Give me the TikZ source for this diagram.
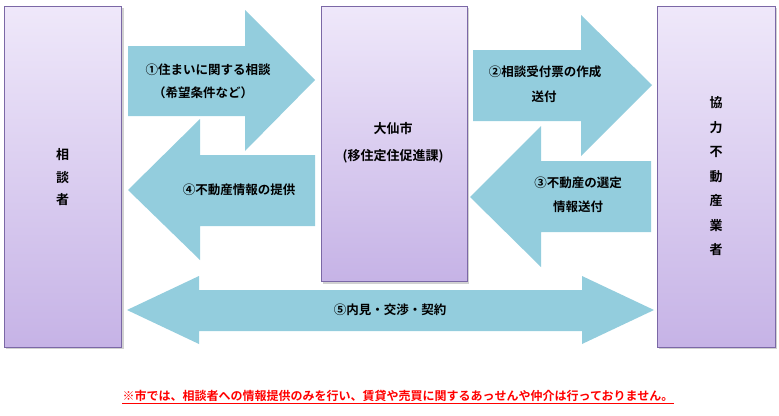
\documentclass[tikz,border=0pt]{standalone}
\usepackage{fontspec}
\setmainfont{Noto Sans CJK JP}[BoldFont={Noto Sans CJK JP Bold}]
\usetikzlibrary{calc}
\definecolor{boxtop}{HTML}{EFE8FA}
\definecolor{boxbot}{HTML}{C6B3E6}
\definecolor{boxline}{HTML}{7B68A6}
\definecolor{arrowc}{HTML}{93CDDD}
\tikzset{
  party/.style={draw=boxline, line width=0.9pt, top color=boxtop, bottom color=boxbot},
  pshadow/.style={fill=black!18},
  blockarrow/.style={fill=arrowc, draw=none},
  lbl/.style={font=\fontsize{12.5}{14}\selectfont\bfseries, text=black, inner sep=0pt},
  vlbl/.style={font=\fontsize{13}{14}\selectfont\bfseries, text=black, inner sep=0pt},
}
\begin{document}
\begin{tikzpicture}[x=1pt,y=-1pt]
\useasboundingbox (0,0) rectangle (779,415);
% shadows
\fill[pshadow] (5.5,8) rectangle (123.5,349);
\fill[pshadow] (322.5,8) rectangle (469,283.5);
\fill[pshadow] (658.5,8) rectangle (777,349);
% boxes
\path[party] (4,6) rectangle (121,347);
\path[party] (321,6) rectangle (467,281);
\path[party] (657,6) rectangle (775,347);
\coordinate (L) at (62.5,176);
\coordinate (M) at (394,143);
\coordinate (R) at (716,176);
% arrow 1 (right)
\fill[blockarrow] (128,46) -- (245,46) -- (245,10) -- (315,80) -- (245,151) -- (245,116) -- (128,116) -- cycle;
% arrow 4 (left)
\fill[blockarrow] (315,155) -- (200,155) -- (200,119) -- (128,190) -- (200,260) -- (200,226) -- (315,226) -- cycle;
% arrow 2 (right)
\fill[blockarrow] (473,50) -- (581,50) -- (581,15) -- (652,85) -- (581,156) -- (581,121) -- (473,121) -- cycle;
% arrow 3 (left)
\fill[blockarrow] (651,161) -- (541,161) -- (541,126) -- (470,197) -- (541,267) -- (541,232) -- (651,232) -- cycle;
% arrow 5 (double)
\fill[blockarrow] (127,310) -- (199,276) -- (199,290) -- (582,290) -- (582,276) -- (654,310) -- (582,344) -- (582,331) -- (199,331) -- (199,344) -- cycle;
% labels in boxes
\node[vlbl] (l1) at (62.5,155) {相};
\node[vlbl] (l2) at (62.5,178) {談};
\node[vlbl] (l3) at (62.5,200) {者};
\node[vlbl] (m1) at (393,129) {大仙市};
\node[vlbl] (m2) at (393,156) {(移住定住促進課)};
\foreach \ch [count=\i] in {協,力,不,動,産,業,者}{
  \node[vlbl] (r\i) at (716,{103+24.5*(\i-1)}) {\ch};
}
% arrow labels
\node[lbl] (t1a) at (208,70) {①住まいに関する相談};
\node[lbl] (t1b) at (203,93) {（希望条件など）};
\node[lbl] (t4) at (239,190) {④不動産情報の提供};
\node[lbl] (t2a) at (545,72) {②相談受付票の作成};
\node[lbl] (t2b) at (544,97) {送付};
\node[lbl] (t3a) at (578,183) {③不動産の選定};
\node[lbl] (t3b) at (578,207) {情報送付};
\node[lbl] (t5) at (390,310) {⑤内見・交渉・契約};
% note
\node[font=\fontsize{12}{14}\selectfont\bfseries, text=red, inner sep=0pt] (note) at (398,396) {※市では、相談者への情報提供のみを行い、賃貸や売買に関するあっせんや仲介は行っておりません。};
\draw[red, line width=0.9pt] ($(note.south west)+(0,1.5)$) -- ($(note.south east)+(0,1.5)$);
\end{tikzpicture}
\end{document}
